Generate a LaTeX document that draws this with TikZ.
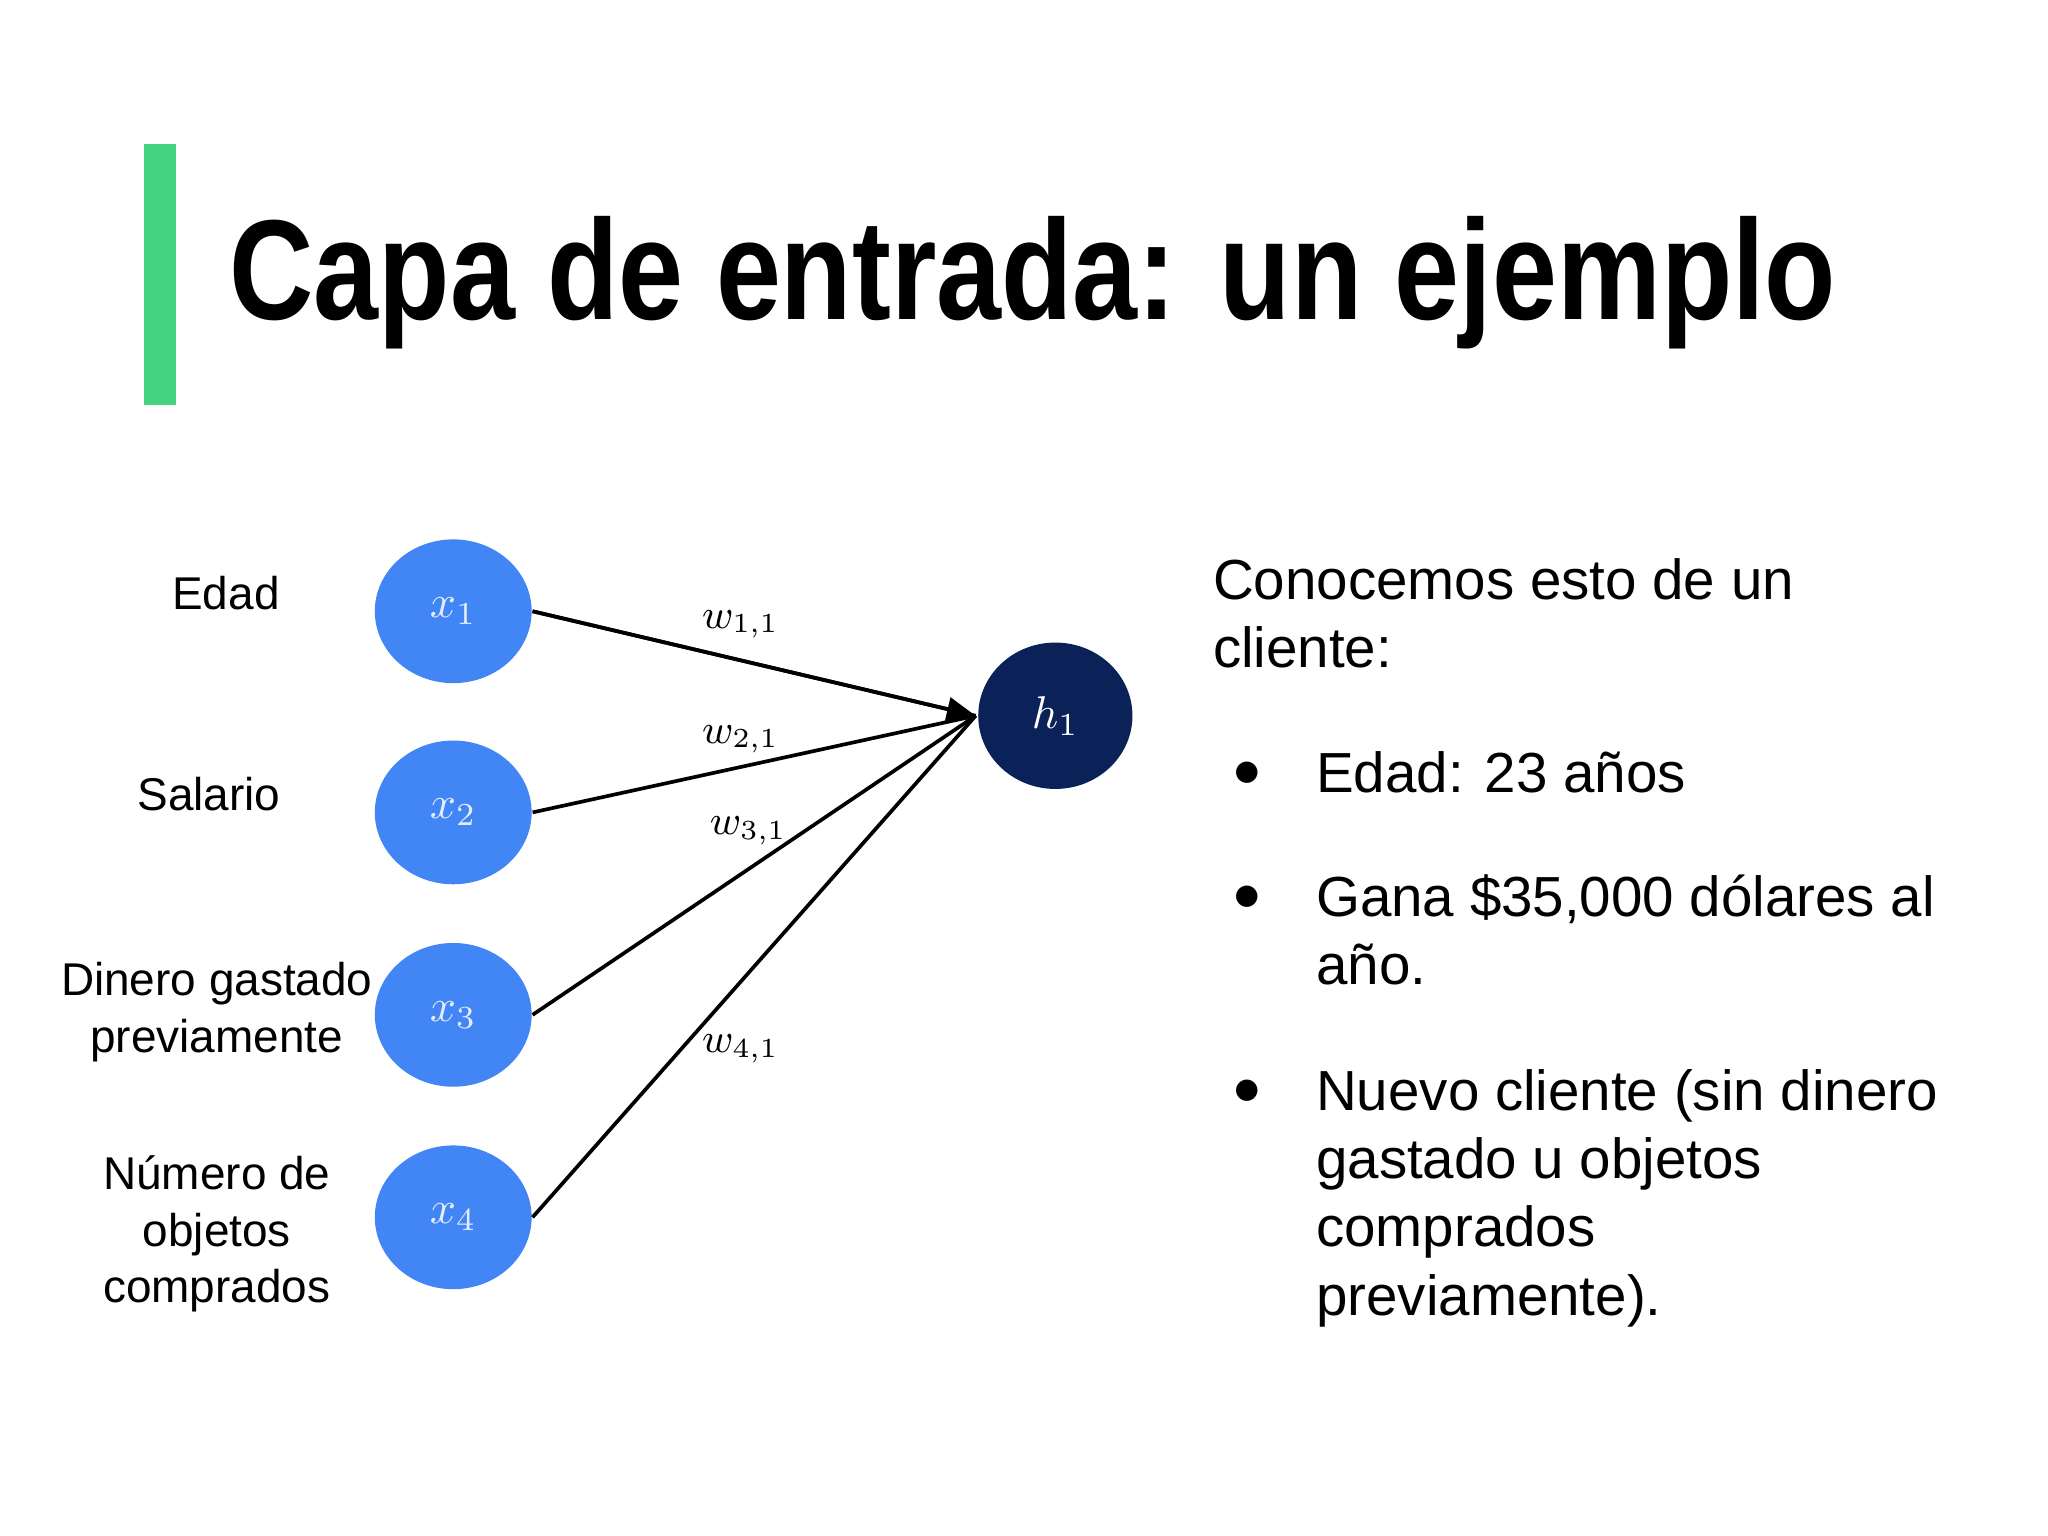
\documentclass[tikz,border=0pt]{standalone}
\usepackage{fontspec}
\setmainfont{Liberation Sans}
\usetikzlibrary{arrows.meta,shapes.geometric}
\definecolor{inp}{HTML}{4285F4}
\definecolor{hid}{HTML}{0B2258}
\definecolor{bar}{HTML}{46D37F}
\begin{document}
\begin{tikzpicture}[x=0.01cm,y=-0.01cm,
  inode/.style={ellipse,fill=inp,minimum width=1.2cm,minimum height=1.1cm,inner sep=0pt,text=white!85!inp,font=\fontsize{10}{12}\selectfont},
  lbl/.style={align=center,font=\fontsize{10}{12.3}\selectfont},
  rtxt/.style={anchor=base west,inner sep=0pt,font=\fontsize{12.3}{15}\selectfont},
  wl/.style={font=\fontsize{9}{10}\selectfont},
  conn/.style={line width=0.8pt}]
\useasboundingbox (0,0) rectangle (1568,1176);
\fill[bar] (110,110) rectangle (135,310);
\node[anchor=base west,inner sep=0pt,font=\bfseries\fontsize{31}{36}\selectfont] (title) at (175,245) {\scalebox{0.82}[1]{Capa de entrada: un ejemplo}};
\node[inode] (x1) at (347,468) {$x_1$};
\node[inode] (x2) at (347,622) {$x_2$};
\node[inode] (x3) at (347,777) {$x_3$};
\node[inode] (x4) at (347,932) {$x_4$};
\node[ellipse,fill=hid,minimum width=1.18cm,minimum height=1.12cm,inner sep=0pt,text=white,font=\fontsize{10}{12}\selectfont] (h1) at (808,548) {$h_1$};
\coordinate (tip) at (747,548);
\draw[conn] (x1.east) -- (tip);
\draw[conn] (x2.east) -- (tip);
\draw[conn] (x3.east) -- (tip);
\draw[conn] (x4.east) -- (tip);
\draw[conn,-{Triangle[length=0.22cm,width=0.18cm]}] (x1.east) -- (tip);
\node[wl] (w1) at (567,478) {$w_{1,1}$};
\node[wl] (w2) at (567,566) {$w_{2,1}$};
\node[wl] (w3) at (573,636) {$w_{3,1}$};
\node[wl] (w4) at (567,803) {$w_{4,1}$};
\node[lbl] (l1) at (173,454) {Edad};
\node[lbl] (l2) at (160,608) {Salario};
\node[lbl] (l3) at (166,775) {Dinero gastado\\previamente};
\node[lbl] (l4) at (166,945) {Número de\\objetos\\comprados};
\node[rtxt] (c1) at (928,459) {Conocemos esto de un};
\node[rtxt] (c2) at (928,511) {cliente:};
\foreach \y in {593,688,836} \node[font=\fontsize{12}{14}\selectfont] at (955,\y) {$\bullet$};
\node[rtxt] (b1) at (1007,607) {Edad: 23 años};
\node[rtxt] (b2) at (1007,702) {Gana \$35,000 dólares al};
\node[rtxt] (b2b) at (1007,754) {año.};
\node[rtxt] (b3) at (1007,850) {Nuevo cliente (sin dinero};
\node[rtxt] (b3b) at (1007,902) {gastado u objetos};
\node[rtxt] (b3c) at (1007,954) {comprados};
\node[rtxt] (b3d) at (1007,1007) {previamente).};
\end{tikzpicture}
\end{document}
